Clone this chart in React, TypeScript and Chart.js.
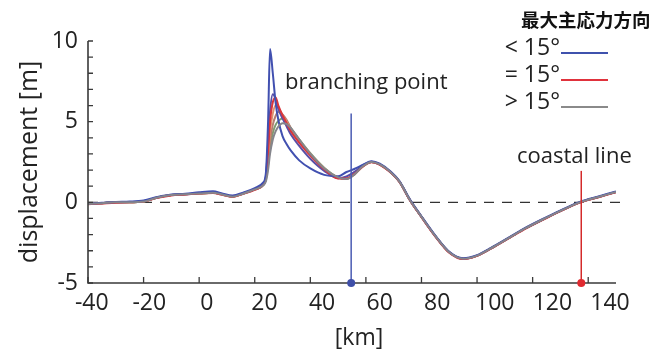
import React, { useEffect, useRef } from "react";
import { Chart, registerables } from "chart.js";

Chart.register(...registerables);

// distance along profile [km]
const kmPoints = [
  -40, -35, -30, -25, -20, -15, -10, -5, 0, 5, 8, 12, 16, 20, 23, 24, 24.8, 25.5, 26.5, 27.5,
  28.5, 30, 31.5, 33, 36, 40, 45, 50, 53, 56, 59, 62, 65, 69, 72, 76, 80, 85, 90, 95,
  100, 105, 112, 117, 125, 131, 137, 144, 150,
];

// displacement [m] per case
const blueTall = [
  -0.08, -0.03, 0.02, 0.05, 0.12, 0.33, 0.48, 0.53, 0.62, 0.68, 0.57, 0.42, 0.62, 0.88, 1.22, 1.8, 5.0, 9.5, 8.0, 6.2,
  5.1, 4.1, 3.6, 3.2, 2.6, 2.1, 1.7, 1.62, 1.88, 2.08, 2.33, 2.55, 2.4, 1.9, 1.34, 0.14, -0.86, -2.06, -3.06, -3.46,
  -3.27, -2.82, -2.12, -1.62, -0.92, -0.42, 0.03, 0.38, 0.68,
];
const blueMid = [
  -0.1, -0.05, 0, 0.02, 0.08, 0.3, 0.45, 0.5, 0.58, 0.62, 0.52, 0.38, 0.58, 0.82, 1.15, 1.6, 3.6, 5.6, 6.7, 6.4,
  5.8, 5.2, 4.7, 4.2, 3.5, 2.7, 1.95, 1.5, 1.6, 1.9, 2.3, 2.52, 2.35, 1.85, 1.3, 0.1, -0.9, -2.1, -3.1, -3.5,
  -3.3, -2.85, -2.15, -1.65, -0.95, -0.45, 0.0, 0.35, 0.65,
];
const redEq = [
  -0.12, -0.07, -0.02, 0, 0.06, 0.28, 0.43, 0.48, 0.55, 0.58, 0.48, 0.33, 0.54, 0.78, 1.08, 1.5, 3.2, 5.0, 6.2, 6.5,
  6.0, 5.4, 4.9, 4.4, 3.7, 2.9, 2.05, 1.48, 1.48, 1.78, 2.23, 2.48, 2.33, 1.83, 1.28, 0.08, -0.92, -2.12, -3.12, -3.52,
  -3.32, -2.87, -2.17, -1.67, -0.97, -0.47, -0.02, 0.33, 0.63,
];
const orangeCase = [
  -0.1, -0.05, 0, 0, 0.05, 0.3, 0.45, 0.5, 0.55, 0.6, 0.5, 0.35, 0.55, 0.8, 1.08, 1.5, 2.9, 4.4, 5.5, 6.0,
  5.85, 5.4, 5.0, 4.5, 3.8, 2.95, 2.1, 1.52, 1.47, 1.76, 2.25, 2.5, 2.35, 1.85, 1.3, 0.1, -0.9, -2.1, -3.1, -3.5,
  -3.3, -2.85, -2.15, -1.65, -0.95, -0.45, 0.0, 0.35, 0.65,
];
const brownCase = [
  -0.1, -0.05, 0, 0, 0.05, 0.3, 0.45, 0.5, 0.55, 0.6, 0.5, 0.35, 0.55, 0.8, 1.06, 1.5, 2.6, 3.8, 4.8, 5.35,
  5.6, 5.45, 5.1, 4.6, 3.85, 3.0, 2.1, 1.53, 1.46, 1.75, 2.25, 2.5, 2.35, 1.85, 1.3, 0.1, -0.9, -2.1, -3.1, -3.5,
  -3.3, -2.85, -2.15, -1.65, -0.95, -0.45, 0.0, 0.35, 0.65,
];
const greenCase = [
  -0.1, -0.05, 0, 0, 0.05, 0.3, 0.45, 0.5, 0.55, 0.6, 0.5, 0.35, 0.55, 0.8, 1.05, 1.4, 2.3, 3.4, 4.3, 4.8,
  5.05, 5.2, 5.0, 4.6, 3.9, 3.05, 2.15, 1.55, 1.45, 1.75, 2.25, 2.5, 2.35, 1.85, 1.3, 0.1, -0.9, -2.1, -3.1, -3.5,
  -3.3, -2.85, -2.15, -1.65, -0.95, -0.45, 0.0, 0.35, 0.65,
];
const grayGt = [
  -0.1, -0.05, 0, 0, 0.05, 0.3, 0.45, 0.5, 0.55, 0.6, 0.5, 0.35, 0.55, 0.8, 1.05, 1.3, 2.0, 3.0, 3.9, 4.4,
  4.7, 4.9, 4.85, 4.6, 3.9, 3.0, 2.1, 1.55, 1.45, 1.75, 2.25, 2.5, 2.35, 1.85, 1.3, 0.1, -0.9, -2.1, -3.1, -3.5,
  -3.3, -2.85, -2.15, -1.65, -0.95, -0.45, 0.0, 0.35, 0.65,
];

const xTickValues = [-40, -20, 0, 20, 40, 60, 80, 100, 120, 140];
const yMinorTicks = [-5, -4, -3, -2, -1, 0, 1, 2, 3, 4, 5, 6, 7, 8, 9, 10];
const yLabelValues = [-5, 0, 5, 10];

const branchingKm = 54.7;
const branchingTop = 5.5;
const coastalKm = 137.5;
const coastalTop = 1.95;

const xAxisTitle = "[km]";
const yAxisTitle = "displacement [m]";
const branchingLabel = "branching point";
const coastalLabel = "coastal line";
const legendTitle = "最大主応力方向";
const legendLabels = ["< 15°", "= 15°", "> 15°"];
const legendColors = ["#3f52ad", "#e0323c", "#8a8a8a"];

const FONT = "'Open Sans', 'Noto Sans', sans-serif";
const TEXT = "#222222";

const toPoints = (ys: number[]) => kmPoints.map((x, i) => ({ x, y: ys[i] }));

const overlay = {
  id: "overlay",
  beforeDatasetsDraw(chart: any) {
    const { ctx, chartArea } = chart;
    const xs = chart.scales.x;
    const ys = chart.scales.y;
    const y0 = ys.getPixelForValue(0);
    ctx.save();
    ctx.strokeStyle = "#333";
    ctx.lineWidth = 1.4;
    ctx.setLineDash([10, 8]);
    ctx.beginPath();
    ctx.moveTo(chartArea.left, y0);
    ctx.lineTo(xs.getPixelForValue(151.5), y0);
    ctx.stroke();
    ctx.restore();
  },
  afterDatasetsDraw(chart: any) {
    const { ctx, chartArea } = chart;
    const xs = chart.scales.x;
    const xl = chart.scales.xl;
    const ys = chart.scales.y;
    const L = chartArea.left;
    const R = chartArea.right;
    const B = chartArea.bottom;
    const T = ys.getPixelForValue(10);
    ctx.save();
    // axes
    ctx.strokeStyle = "#3a3a3a";
    ctx.lineWidth = 1.6;
    ctx.beginPath();
    ctx.moveTo(L, T);
    ctx.lineTo(L, B);
    ctx.lineTo(R, B);
    ctx.stroke();
    ctx.lineWidth = 1.3;
    ctx.beginPath();
    yMinorTicks.forEach((v) => {
      const py = ys.getPixelForValue(v);
      ctx.moveTo(L, py);
      ctx.lineTo(L + 5, py);
    });
    xTickValues.forEach((v) => {
      const px = xs.getPixelForValue(v);
      ctx.moveTo(px, B);
      ctx.lineTo(px, B - 6);
    });
    ctx.stroke();

    // tick labels
    ctx.fillStyle = TEXT;
    ctx.font = `23px ${FONT}`;
    ctx.textAlign = "right";
    ctx.textBaseline = "middle";
    yLabelValues.forEach((v) => {
      ctx.fillText(String(v), L - 10, ys.getPixelForValue(v));
    });
    ctx.textAlign = "center";
    xTickValues.forEach((v) => {
      ctx.fillText(String(v), xl.getPixelForValue(v), B + 20);
    });

    // axis titles
    ctx.font = `23px ${FONT}`;
    ctx.fillText(xAxisTitle, 359, 338);
    ctx.save();
    ctx.translate(30, 162);
    ctx.rotate(-Math.PI / 2);
    ctx.font = `25px ${FONT}`;
    ctx.fillText(yAxisTitle, 0, 0);
    ctx.restore();

    // branching point
    const bx = xs.getPixelForValue(branchingKm);
    ctx.strokeStyle = "#4a5bb3";
    ctx.lineWidth = 1.5;
    ctx.beginPath();
    ctx.moveTo(bx, B);
    ctx.lineTo(bx, ys.getPixelForValue(branchingTop));
    ctx.stroke();
    ctx.fillStyle = "#3f4fa8";
    ctx.beginPath();
    ctx.arc(bx, B, 4, 0, Math.PI * 2);
    ctx.fill();
    ctx.fillStyle = TEXT;
    ctx.font = `22px ${FONT}`;
    ctx.textAlign = "left";
    ctx.fillText(branchingLabel, 285, 83);

    // coastal line
    const cx = xs.getPixelForValue(coastalKm);
    ctx.strokeStyle = "#d42a2a";
    ctx.lineWidth = 1.5;
    ctx.beginPath();
    ctx.moveTo(cx, B);
    ctx.lineTo(cx, ys.getPixelForValue(coastalTop));
    ctx.stroke();
    ctx.fillStyle = "#e02a30";
    ctx.beginPath();
    ctx.arc(cx, B, 4, 0, Math.PI * 2);
    ctx.fill();
    ctx.fillStyle = TEXT;
    ctx.font = `22px ${FONT}`;
    ctx.textAlign = "left";
    ctx.fillText(coastalLabel, 517, 157);

    // legend
    ctx.font = `bold 18.5px 'Noto Sans CJK JP', sans-serif`;
    ctx.textAlign = "left";
    ctx.fillStyle = "#111";
    ctx.fillText(legendTitle, 521, 20);
    ctx.font = `23px ${FONT}`;
    legendLabels.forEach((lab, i) => {
      const ly = 48 + i * 27;
      ctx.fillStyle = TEXT;
      ctx.textAlign = "right";
      ctx.fillText(lab, 560, ly);
      ctx.strokeStyle = legendColors[i];
      ctx.lineWidth = 2;
      ctx.beginPath();
      ctx.moveTo(561, ly + 5);
      ctx.lineTo(608, ly + 5);
      ctx.stroke();
    });
    ctx.restore();
  },
};

export default function App() {
  const ref = useRef<HTMLCanvasElement>(null);
  useEffect(() => {
    const line = (label: string, data: number[], color: string) => ({
      label,
      data: toPoints(data),
      borderColor: color,
      backgroundColor: color,
      borderWidth: 2,
      pointRadius: 0,
      cubicInterpolationMode: "monotone" as const,
      fill: false,
    });
    const chart = new Chart(ref.current as HTMLCanvasElement, {
      type: "line",
      data: {
        datasets: [
          line("> 15°", grayGt, "#85858c"),
          line("< 15° a", blueTall, "#4150b0"),
          line("= 15°", redEq, "#d9363c"),
          line("< 15° b", blueMid, "#5a4fa6"),
          line("orange", orangeCase, "#e0916c"),
          line("brown", brownCase, "#b47e70"),
          line("green", greenCase, "#7f9b70"),
        ],
      },
      options: {
        responsive: false,
        devicePixelRatio: 1,
        animation: false,
        layout: { padding: { left: 88, right: 36, top: 41, bottom: 74 } },
        scales: {
          x: { type: "linear", min: -40, max: 150, display: false },
          xl: { type: "linear", position: "bottom", min: -41.3, max: 142.1, display: false },
          y: { type: "linear", min: -5, max: 10, display: false },
        },
        plugins: { legend: { display: false }, tooltip: { enabled: false } },
      },
      plugins: [overlay],
    });
    return () => chart.destroy();
  }, []);
  return (
    <div style={{ position: "fixed", left: 0, top: 0, width: 652, height: 357, background: "#fff" }}>
      <canvas ref={ref} width={652} height={357} style={{ width: 652, height: 357, display: "block" }} />
    </div>
  );
}
